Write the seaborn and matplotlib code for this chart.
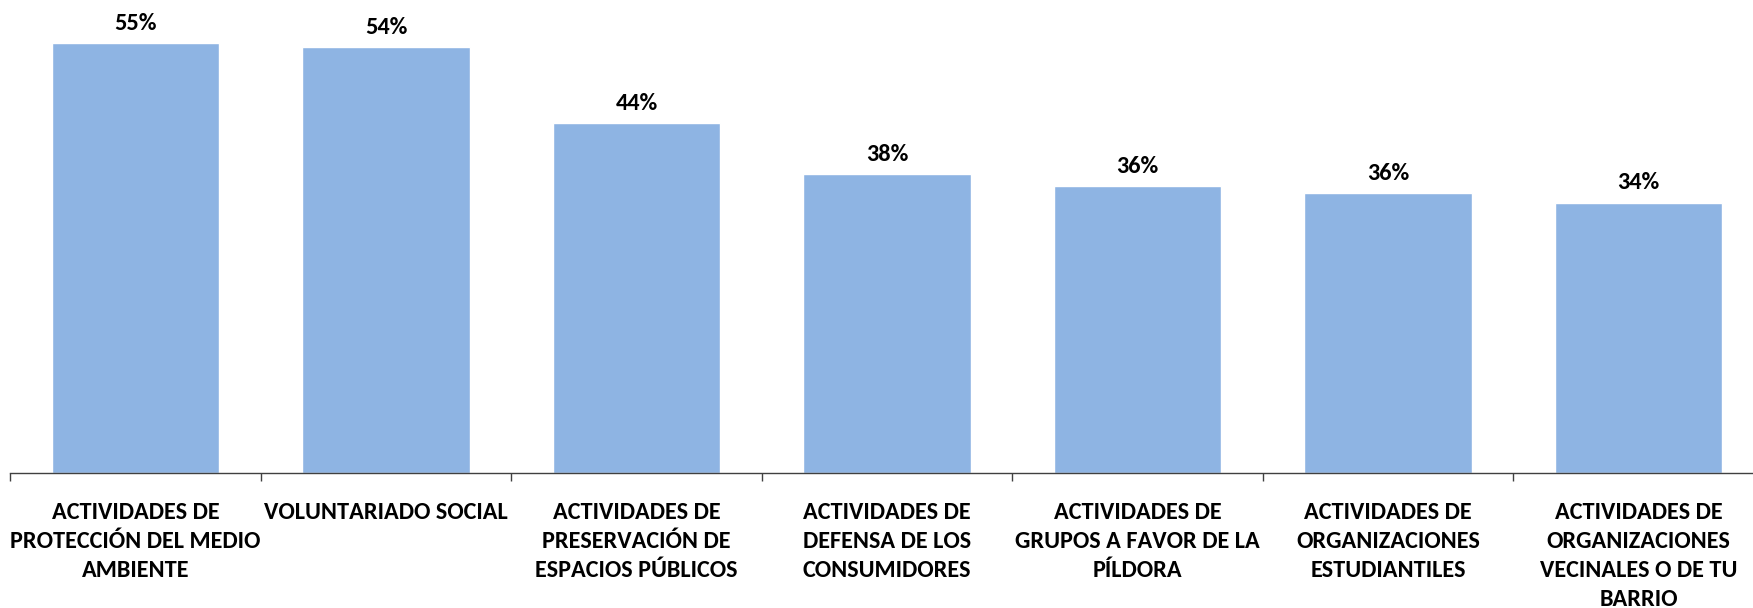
import numpy as np
import pandas as pd
import matplotlib
matplotlib.use("Agg")
import matplotlib.pyplot as plt
import seaborn as sns

# ------------------------------------------------------------
# Data
# ------------------------------------------------------------
categories = [
    "ACTIVIDADES DE\nPROTECCIÓN DEL MEDIO\nAMBIENTE",
    "VOLUNTARIADO SOCIAL",
    "ACTIVIDADES DE\nPRESERVACIÓN DE\nESPACIOS PÚBLICOS",
    "ACTIVIDADES DE\nDEFENSA DE LOS\nCONSUMIDORES",
    "ACTIVIDADES DE\nGRUPOS A FAVOR DE LA\nPÍLDORA",
    "ACTIVIDADES DE\nORGANIZACIONES\nESTUDIANTILES",
    "ACTIVIDADES DE\nORGANIZACIONES\nVECINALES O DE TU\nBARRIO",
]
values = [54.8, 54.3, 44.6, 38.1, 36.6, 35.7, 34.5]
value_labels = ["55%", "54%", "44%", "38%", "36%", "36%", "34%"]

bar_color = "#8EB4E3"

# ------------------------------------------------------------
# Plot
# ------------------------------------------------------------
sns.set_style("white")
plt.rcParams["font.family"] = ["Carlito", "Lato", "DejaVu Sans"]

df = pd.DataFrame({"categoria": categories, "valor": values})

W, H = 1753, 608
fig = plt.figure(figsize=(W / 100, H / 100), dpi=100)
base_y = 473.3
ax = fig.add_axes([10.3 / W, (H - base_y) / H, 1753.5 / W, base_y / H])

sns.barplot(data=df, x="categoria", y="valor", color=bar_color,
            saturation=1, width=0.67, errorbar=None, ax=ax)

ax.set_xlim(-0.5, len(categories) - 0.5)
ax.set_ylim(0, 60.3)

# value labels above bars
for i, (v, lab) in enumerate(zip(values, value_labels)):
    ax.annotate(lab, xy=(i, v), xytext=(0, 9.5), textcoords="offset points",
                ha="center", va="baseline", fontsize=17.5, fontweight="bold",
                color="black")

# ticks between categories, labels at the centres
ax.set_xticks(np.arange(-0.5, len(categories), 1))
ax.set_xticklabels([])
ax.set_xticks(np.arange(len(categories)), minor=True)
ax.set_xticklabels(categories, minor=True, fontsize=17.5, fontweight="bold",
                   color="black", linespacing=1.46)
ax.tick_params(axis="x", which="major", length=6, width=1, color="#404040",
               direction="out", bottom=True)
ax.tick_params(axis="x", which="minor", length=0, pad=21)
ax.set_yticks([])
ax.set_xlabel("")
ax.set_ylabel("")

for s in ["top", "right", "left"]:
    ax.spines[s].set_visible(False)
ax.spines["bottom"].set_color("#404040")
ax.spines["bottom"].set_linewidth(1)

fig.savefig("out.png", dpi=100)
